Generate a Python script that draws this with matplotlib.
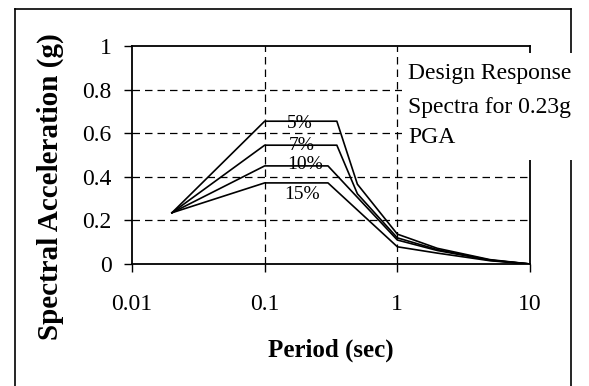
import numpy as np
import matplotlib.pyplot as plt
from matplotlib.patches import Rectangle
from matplotlib.lines import Line2D

plt.rcParams['font.family'] = ['Liberation Serif', 'DejaVu Serif']

# espectros de diseño para PGA 0.23g, por amortiguamiento
per_5 = [0.02, 0.1, 0.35, 0.5, 1, 2, 5, 10]
sa_5 = [0.235, 0.655, 0.655, 0.366, 0.137, 0.072, 0.02, 0]
per_7 = [0.02, 0.1, 0.35, 0.5, 1, 2, 5, 10]
sa_7 = [0.235, 0.545, 0.545, 0.322, 0.12, 0.066, 0.018, 0]
per_10 = [0.02, 0.1, 0.3, 1, 2, 5, 10]
sa_10 = [0.235, 0.45, 0.45, 0.11, 0.062, 0.017, 0]
per_15 = [0.02, 0.1, 0.3, 1, 2, 5, 10]
sa_15 = [0.235, 0.372, 0.372, 0.079, 0.05, 0.015, 0]

curvas = [(per_5, sa_5), (per_7, sa_7), (per_10, sa_10), (per_15, sa_15)]
etiquetas = ['5%', '7%', '10%', '15%']
# posicion de cada etiqueta (periodo, Sa)
pos_etiq = [(0.185, 0.645), (0.19, 0.545), (0.2, 0.455), (0.19, 0.32)]

x_ticks = [0.01, 0.1, 1, 10]
x_ticklabels = ['0.01', '0.1', '1', '10']
y_ticks = [0, 0.2, 0.4, 0.6, 0.8, 1]
y_ticklabels = ['0', '0.2', '0.4', '0.6', '0.8', '1']

W, H = 589, 386
fig = plt.figure(figsize=(W / 100, H / 100), dpi=100)
ax = fig.add_axes([132 / W, 1 - 264 / H, 398 / W, 218 / H])

for (p, s) in curvas:
    ax.plot(p, s, color='black', lw=1.2, zorder=3)
for txt, (px, py) in zip(etiquetas, pos_etiq):
    ax.text(px, py, txt, fontsize=14, ha='center', va='center', zorder=4)

ax.set_xscale('log')
ax.set_xlim(0.01, 10)
ax.set_ylim(0, 1)
ax.set_xticks(x_ticks)
ax.set_xticklabels(x_ticklabels)
ax.set_yticks(y_ticks)
ax.set_yticklabels(y_ticklabels)
ax.minorticks_off()
ax.tick_params(axis='x', direction='out', length=5.5, width=1, labelsize=17, pad=16)
ax.tick_params(axis='y', direction='out', length=5.5, width=1, labelsize=17, pad=9)

# cuadricula punteada
for yv in [0.2, 0.4, 0.6, 0.8]:
    ax.axhline(yv, color='black', lw=0.9, ls=(0, (6, 4)), zorder=1)
for xv in [0.1, 1]:
    ax.axvline(xv, color='black', lw=0.9, ls=(0, (6, 4)), zorder=1)

for sp in ax.spines.values():
    sp.set_linewidth(1.3)

fig.text(331 / W, 1 - 350 / H, 'Period (sec)', fontsize=18, fontweight='bold',
         ha='center', va='center')
fig.text(50 / W, 1 - 187 / H, 'Spectral Acceleration (g)', fontsize=21,
         fontweight='bold', rotation=90, ha='center', va='center')

# marco exterior
xl, xr, yt = 14.5 / W, 571 / W, 1 - 8.5 / H
for xs, ys in [([xl, xl], [0, yt]), ([xl, xr], [yt, yt]), ([xr, xr], [yt, 0])]:
    fig.add_artist(Line2D(xs, ys, color='black', lw=1.2, transform=fig.transFigure))

# cuadro de texto
fig.add_artist(Rectangle((402 / W, 1 - 160 / H), (W - 402) / W, 107 / H,
                         facecolor='white', edgecolor='none',
                         transform=fig.transFigure, zorder=5))
for txt, yp in [('Design Response', 73), ('Spectra for 0.23g', 107), ('PGA', 138)]:
    fig.text(408 / W, 1 - yp / H, txt, fontsize=17, ha='left', va='center', zorder=6)

fig.savefig('out.png', dpi=100)
